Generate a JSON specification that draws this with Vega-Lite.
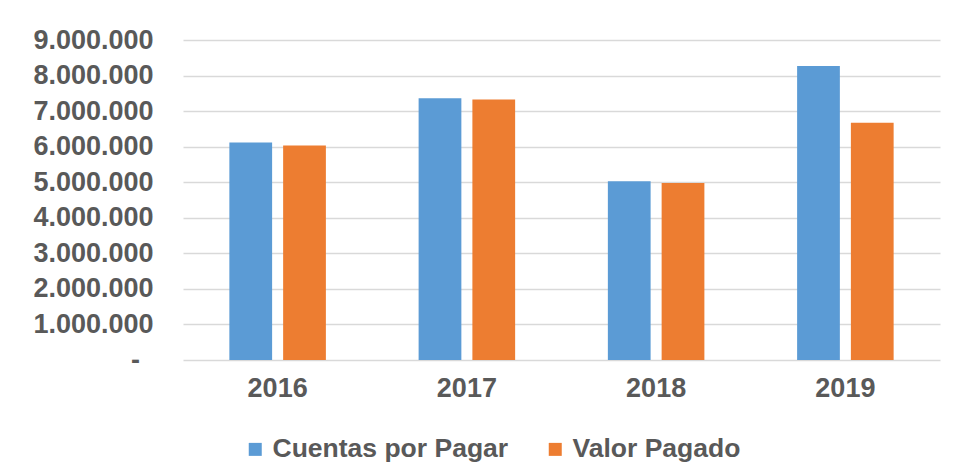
{
  "$schema": "https://vega.github.io/schema/vega-lite/v6.json",
  "width": 757,
  "height": 320,
  "autosize": {"type": "none"},
  "padding": {"left": 183, "top": 40, "right": 13, "bottom": 115},
  "background": "white",
  "data": {
    "values": [
      {"anio": "2016", "serie": "Cuentas por Pagar", "valor": 6120000},
      {"anio": "2016", "serie": "Valor Pagado", "valor": 6030000},
      {"anio": "2017", "serie": "Cuentas por Pagar", "valor": 7360000},
      {"anio": "2017", "serie": "Valor Pagado", "valor": 7330000},
      {"anio": "2018", "serie": "Cuentas por Pagar", "valor": 5030000},
      {"anio": "2018", "serie": "Valor Pagado", "valor": 4980000},
      {"anio": "2019", "serie": "Cuentas por Pagar", "valor": 8270000},
      {"anio": "2019", "serie": "Valor Pagado", "valor": 6670000}
    ]
  },
  "mark": {"type": "bar"},
  "encoding": {
    "x": {
      "field": "anio",
      "type": "nominal",
      "scale": {"paddingInner": 0.49, "paddingOuter": 0.245},
      "axis": {
        "title": null,
        "labelAngle": 0,
        "ticks": false,
        "domain": false,
        "labelPadding": 15,
        "labelFontSize": 27
      }
    },
    "xOffset": {
      "field": "serie",
      "type": "nominal",
      "scale": {"paddingInner": 0.205, "paddingOuter": 0}
    },
    "y": {
      "field": "valor",
      "type": "quantitative",
      "scale": {"domain": [0, 9000000], "nice": false},
      "axis": {
        "title": null,
        "values": [0, 1000000, 2000000, 3000000, 4000000, 5000000, 6000000, 7000000, 8000000, 9000000],
        "ticks": false,
        "domain": false,
        "labelPadding": 30,
        "labelFontSize": 27,
        "labelExpr": "datum.value == 0 ? '-\u2002\u200b' : replace(format(datum.value, ',.0f'), regexp(',', 'g'), '.')"
      }
    },
    "color": {
      "field": "serie",
      "type": "nominal",
      "scale": {"domain": ["Cuentas por Pagar", "Valor Pagado"], "range": ["#5B9BD5", "#ED7D31"]},
      "legend": {
        "title": null,
        "orient": "none",
        "direction": "horizontal",
        "legendX": 59,
        "legendY": 396,
        "symbolType": "square",
        "symbolSize": 169,
        "symbolStrokeWidth": 0,
        "labelFontSize": 26.5,
        "labelLimit": 500,
        "labelOffset": 4,
        "columnPadding": 33
      }
    }
  },
  "config": {
    "font": "Liberation Sans",
    "view": {"stroke": null},
    "axis": {
      "labelFont": "Liberation Sans",
      "labelFontWeight": "bold",
      "labelColor": "#595959",
      "gridColor": "#d9d9d9",
      "gridWidth": 1.3
    },
    "axisX": {"grid": false},
    "legend": {
      "labelFont": "Liberation Sans",
      "labelFontWeight": "bold",
      "labelColor": "#595959"
    }
  }
}
